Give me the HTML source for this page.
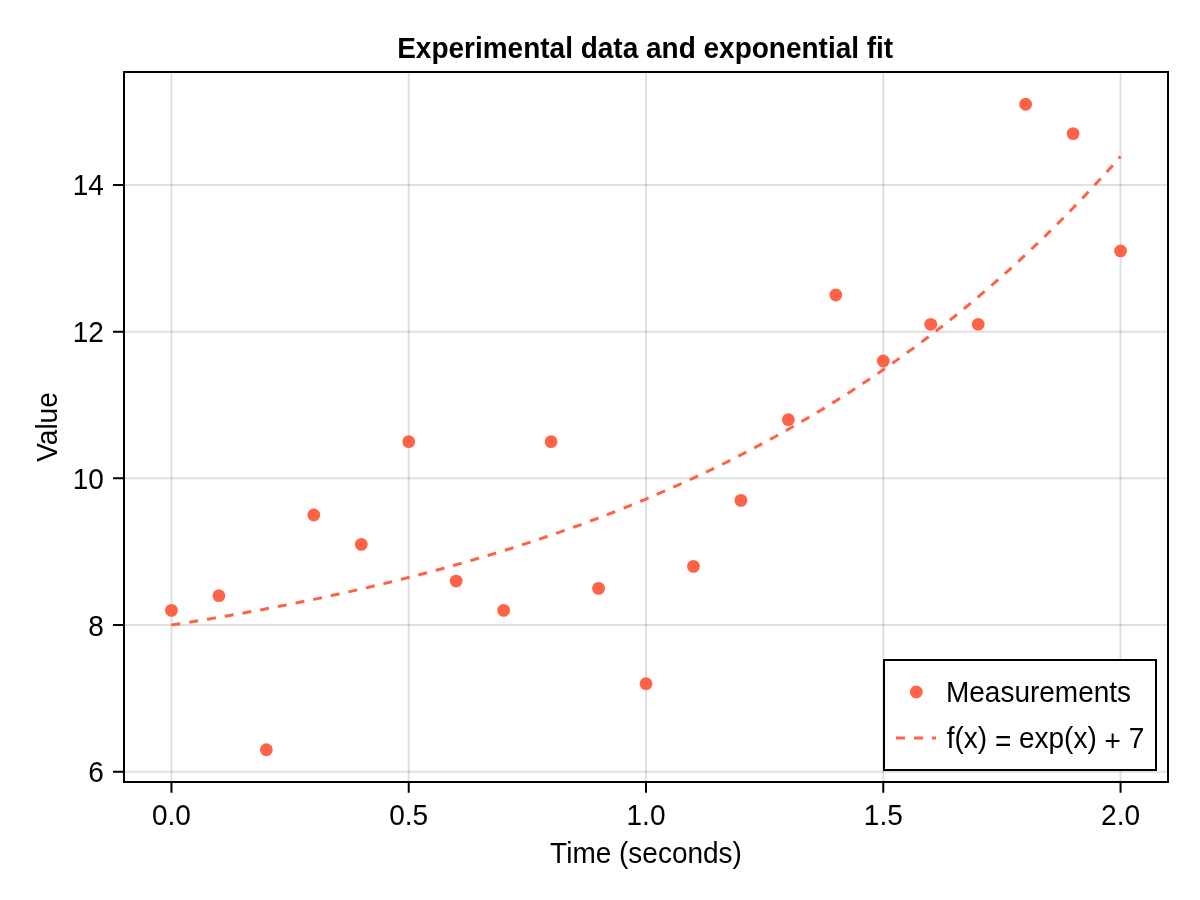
<!DOCTYPE html>
<html><head><meta charset="utf-8"><style>
html,body{margin:0;padding:0;background:#fff;width:1200px;height:900px;overflow:hidden}
svg{display:block;will-change:transform}
text{font-family:"Liberation Sans",sans-serif}
</style></head><body>
<svg width="1200" height="900" viewBox="0 0 1200 900">
<rect x="0" y="0" width="1200" height="900" fill="#fff"/>
<path d="M171.45 72V782" stroke="rgba(0,0,0,0.12)" stroke-width="2" fill="none"/>
<path d="M408.73 72V782" stroke="rgba(0,0,0,0.12)" stroke-width="2" fill="none"/>
<path d="M646.00 72V782" stroke="rgba(0,0,0,0.12)" stroke-width="2" fill="none"/>
<path d="M883.27 72V782" stroke="rgba(0,0,0,0.12)" stroke-width="2" fill="none"/>
<path d="M1120.55 72V782" stroke="rgba(0,0,0,0.12)" stroke-width="2" fill="none"/>
<path d="M124 771.73H1168" stroke="rgba(0,0,0,0.12)" stroke-width="2" fill="none"/>
<path d="M124 625.04H1168" stroke="rgba(0,0,0,0.12)" stroke-width="2" fill="none"/>
<path d="M124 478.34H1168" stroke="rgba(0,0,0,0.12)" stroke-width="2" fill="none"/>
<path d="M124 331.65H1168" stroke="rgba(0,0,0,0.12)" stroke-width="2" fill="none"/>
<path d="M124 184.95H1168" stroke="rgba(0,0,0,0.12)" stroke-width="2" fill="none"/>
<path d="M171.45 625.04L176.20 624.30L180.95 623.56L185.69 622.80L190.44 622.04L195.18 621.28L199.93 620.50L204.67 619.72L209.42 618.93L214.16 618.13L218.91 617.32L223.65 616.51L228.40 615.69L233.15 614.85L237.89 614.02L242.64 613.17L247.38 612.31L252.13 611.45L256.87 610.57L261.62 609.69L266.36 608.80L271.11 607.90L275.85 606.99L280.60 606.07L285.35 605.14L290.09 604.20L294.84 603.26L299.58 602.30L304.33 601.34L309.07 600.36L313.82 599.38L318.56 598.38L323.31 597.38L328.05 596.36L332.80 595.34L337.55 594.30L342.29 593.25L347.04 592.20L351.78 591.13L356.53 590.05L361.27 588.96L366.02 587.86L370.76 586.75L375.51 585.63L380.25 584.50L385.00 583.35L389.75 582.20L394.49 581.03L399.24 579.85L403.98 578.66L408.73 577.46L413.47 576.24L418.22 575.01L422.96 573.77L427.71 572.52L432.45 571.26L437.20 569.98L441.95 568.69L446.69 567.38L451.44 566.07L456.18 564.74L460.93 563.39L465.67 562.04L470.42 560.67L475.16 559.28L479.91 557.88L484.65 556.47L489.40 555.05L494.15 553.61L498.89 552.15L503.64 550.68L508.38 549.20L513.13 547.70L517.87 546.18L522.62 544.65L527.36 543.11L532.11 541.55L536.85 539.97L541.60 538.38L546.35 536.77L551.09 535.15L555.84 533.51L560.58 531.85L565.33 530.18L570.07 528.49L574.82 526.78L579.56 525.05L584.31 523.31L589.05 521.55L593.80 519.77L598.55 517.98L603.29 516.17L608.04 514.34L612.78 512.49L617.53 510.62L622.27 508.73L627.02 506.82L631.76 504.90L636.51 502.95L641.25 500.99L646.00 499.01L650.75 497.00L655.49 494.98L660.24 492.93L664.98 490.87L669.73 488.78L674.47 486.68L679.22 484.55L683.96 482.40L688.71 480.23L693.45 478.04L698.20 475.82L702.95 473.59L707.69 471.33L712.44 469.04L717.18 466.74L721.93 464.41L726.67 462.06L731.42 459.69L736.16 457.29L740.91 454.86L745.65 452.42L750.40 449.94L755.15 447.45L759.89 444.93L764.64 442.38L769.38 439.80L774.13 437.21L778.87 434.58L783.62 431.93L788.36 429.25L793.11 426.55L797.85 423.82L802.60 421.06L807.35 418.27L812.09 415.45L816.84 412.61L821.58 409.74L826.33 406.84L831.07 403.91L835.82 400.95L840.56 397.96L845.31 394.94L850.05 391.89L854.80 388.81L859.55 385.70L864.29 382.55L869.04 379.38L873.78 376.17L878.53 372.94L883.27 369.67L888.02 366.36L892.76 363.02L897.51 359.65L902.25 356.25L907.00 352.81L911.75 349.34L916.49 345.83L921.24 342.29L925.98 338.71L930.73 335.09L935.47 331.44L940.22 327.75L944.96 324.03L949.71 320.27L954.45 316.47L959.20 312.63L963.95 308.75L968.69 304.84L973.44 300.88L978.18 296.89L982.93 292.85L987.67 288.78L992.42 284.66L997.16 280.50L1001.91 276.30L1006.65 272.06L1011.40 267.77L1016.15 263.45L1020.89 259.08L1025.64 254.66L1030.38 250.20L1035.13 245.70L1039.87 241.15L1044.62 236.55L1049.36 231.91L1054.11 227.22L1058.85 222.49L1063.60 217.70L1068.35 212.87L1073.09 207.99L1077.84 203.06L1082.58 198.09L1087.33 193.06L1092.07 187.98L1096.82 182.85L1101.56 177.67L1106.31 172.44L1111.05 167.15L1115.80 161.81L1120.55 156.42" stroke="#ff6347" stroke-width="3" fill="none" stroke-dasharray="9 9"/>
<circle cx="171.45" cy="610.37" r="6.4" fill="#ff6347"/>
<circle cx="218.91" cy="595.70" r="6.4" fill="#ff6347"/>
<circle cx="266.36" cy="749.73" r="6.4" fill="#ff6347"/>
<circle cx="313.82" cy="515.02" r="6.4" fill="#ff6347"/>
<circle cx="361.27" cy="544.36" r="6.4" fill="#ff6347"/>
<circle cx="408.73" cy="441.67" r="6.4" fill="#ff6347"/>
<circle cx="456.18" cy="581.03" r="6.4" fill="#ff6347"/>
<circle cx="503.64" cy="610.37" r="6.4" fill="#ff6347"/>
<circle cx="551.09" cy="441.67" r="6.4" fill="#ff6347"/>
<circle cx="598.55" cy="588.36" r="6.4" fill="#ff6347"/>
<circle cx="646.00" cy="683.71" r="6.4" fill="#ff6347"/>
<circle cx="693.45" cy="566.36" r="6.4" fill="#ff6347"/>
<circle cx="740.91" cy="500.35" r="6.4" fill="#ff6347"/>
<circle cx="788.36" cy="419.67" r="6.4" fill="#ff6347"/>
<circle cx="835.82" cy="294.98" r="6.4" fill="#ff6347"/>
<circle cx="883.27" cy="360.99" r="6.4" fill="#ff6347"/>
<circle cx="930.73" cy="324.31" r="6.4" fill="#ff6347"/>
<circle cx="978.18" cy="324.31" r="6.4" fill="#ff6347"/>
<circle cx="1025.64" cy="104.27" r="6.4" fill="#ff6347"/>
<circle cx="1073.09" cy="133.61" r="6.4" fill="#ff6347"/>
<circle cx="1120.55" cy="250.97" r="6.4" fill="#ff6347"/>
<rect x="124" y="72" width="1044" height="710" fill="none" stroke="#000" stroke-width="2"/>
<path d="M171.45 782V792.70M408.73 782V792.70M646.00 782V792.70M883.27 782V792.70M1120.55 782V792.70M124 771.73H113.00M124 625.04H113.00M124 478.34H113.00M124 331.65H113.00M124 184.95H113.00" stroke="#000" stroke-width="2" fill="none"/>
<g font-family="Liberation Sans, sans-serif" font-size="28" fill="#000">
<text transform="translate(171.45 824.70) scale(1 1.05)" text-anchor="middle">0.0</text>
<text transform="translate(408.73 824.70) scale(1 1.05)" text-anchor="middle">0.5</text>
<text transform="translate(646.00 824.70) scale(1 1.05)" text-anchor="middle">1.0</text>
<text transform="translate(883.27 824.70) scale(1 1.05)" text-anchor="middle">1.5</text>
<text transform="translate(1120.55 824.70) scale(1 1.05)" text-anchor="middle">2.0</text>
<text transform="translate(103.80 782.23) scale(1 1.05)" text-anchor="end">6</text>
<text transform="translate(103.80 635.54) scale(1 1.05)" text-anchor="end">8</text>
<text transform="translate(103.80 488.84) scale(1 1.05)" text-anchor="end">10</text>
<text transform="translate(103.80 342.15) scale(1 1.05)" text-anchor="end">12</text>
<text transform="translate(103.80 195.45) scale(1 1.05)" text-anchor="end">14</text>
<text transform="translate(646.00 863.10) scale(1 1.05)" text-anchor="middle">Time (seconds)</text>
<text transform="translate(57.00 427.00) rotate(-90) scale(1 1.05)" text-anchor="middle">Value</text>
<text transform="translate(645.20 58.00) scale(1 1.05)" text-anchor="middle" font-weight="bold">Experimental data and exponential fit</text>
</g>
<rect x="884" y="660" width="272" height="110" fill="#fff" stroke="#000" stroke-width="2"/>
<circle cx="916.3" cy="692" r="6.4" fill="#ff6347"/>
<path d="M896 738H936" stroke="#ff6347" stroke-width="3" stroke-dasharray="9 9"/>
<g font-family="Liberation Sans, sans-serif" font-size="28" fill="#000">
<text transform="translate(946.00 702.00) scale(1 1.05)" text-anchor="start">Measurements</text>
<text transform="translate(946.70 747.70) scale(1 1.05)" text-anchor="start">f(x) <tspan dy="3.2">=</tspan><tspan dy="-3.2"> exp(x) </tspan><tspan dy="3.2">+</tspan><tspan dy="-3.2"> 7</tspan></text>
</g>
</svg>
</body></html>
